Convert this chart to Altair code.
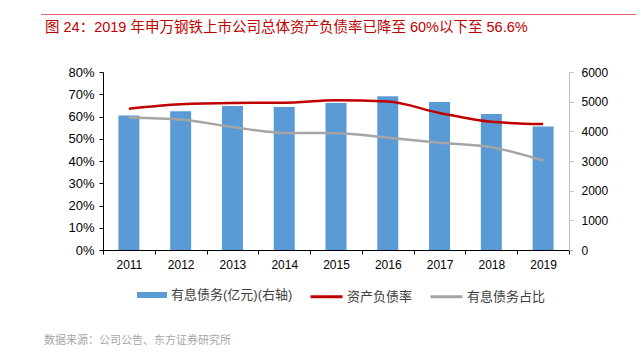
import altair as alt
import pandas as pd

years = ["2011", "2012", "2013", "2014", "2015", "2016", "2017", "2018", "2019"]
debt = [4530, 4675, 4856, 4823, 4957, 5180, 4991, 4587, 4160]          # 有息债务(亿元)
liab_ratio = [63.5, 65.5, 66.1, 66.2, 67.3, 66.7, 61.6, 57.6, 56.6]     # 资产负债率 %
debt_share = [59.6, 58.6, 55.3, 52.6, 52.5, 50.5, 48.2, 46.2, 40.2]     # 有息债务占比 %

BAR_NAME = "有息债务(亿元)(右轴)"
LINE_NAMES = ["资产负债率", "有息债务占比"]
TITLE = "图 24：2019 年申万钢铁上市公司总体资产负债率已降至 60%以下至 56.6%"
SOURCE = "数据来源：公司公告、东方证券研究所"

LAT = "Liberation Sans, Arial, Noto Sans CJK SC"
CJK = "Liberation Sans, Noto Sans CJK SC"

bar_df = pd.DataFrame({"year": years, "value": debt, "series": BAR_NAME})
line_df = pd.concat([
    pd.DataFrame({"year": years, "value": liab_ratio, "series": LINE_NAMES[0]}),
    pd.DataFrame({"year": years, "value": debt_share, "series": LINE_NAMES[1]}),
])

x_enc = alt.X("year:N", sort=years,
              scale=alt.Scale(paddingInner=0, paddingOuter=0),
              axis=alt.Axis(title=None, labelAngle=0, tickBand="extent",
                            domainColor="#000000", tickColor="#000000", tickSize=4,
                            labelFont=LAT, labelFontSize=12, labelColor="#000000",
                            labelPadding=5, grid=False))

bars = alt.Chart(bar_df).mark_bar(size=21).encode(
    x=x_enc,
    y=alt.Y("value:Q", scale=alt.Scale(domain=[0, 6000], nice=False),
            axis=alt.Axis(orient="right", title=None, values=[0, 1000, 2000, 3000, 4000, 5000, 6000],
                          format="d", domainColor="#BFBFBF", tickColor="#BFBFBF", tickSize=4,
                          labelPadding=8, labelFont=LAT, labelFontSize=12,
                          labelColor="#000000", grid=False)),
    fill=alt.Fill("series:N", scale=alt.Scale(domain=[BAR_NAME], range=["#5B9BD5"]),
                  legend=alt.Legend(title=None, orient="none", legendX=34, legendY=208,
                                    symbolType="M-1,-0.2H1V0.2H-1Z", symbolSize=900,
                                    symbolStrokeWidth=0, labelOffset=4, padding=0,
                                    labelFont=CJK, labelFontSize=13, labelColor="#404040")),
)

lines = alt.Chart(line_df).mark_line(strokeWidth=2.5, interpolate="monotone").encode(
    x=alt.X("year:N", sort=years),
    y=alt.Y("value:Q", scale=alt.Scale(domain=[0, 80], nice=False),
            axis=alt.Axis(orient="left", title=None, values=[0, 10, 20, 30, 40, 50, 60, 70, 80],
                          labelExpr="datum.value + '%'", domainColor="#000000",
                          tickColor="#000000", tickSize=4, labelPadding=5,
                          labelFont=LAT, labelFontSize=13, labelColor="#000000", grid=False)),
    stroke=alt.Stroke("series:N", sort=LINE_NAMES,
                      scale=alt.Scale(domain=LINE_NAMES, range=["#C00000", "#A5A5A5"]),
                      legend=alt.Legend(title=None, orient="none", legendX=206, legendY=207,
                                        direction="horizontal", symbolType="stroke",
                                        symbolSize=1024, symbolStrokeWidth=3, labelOffset=3,
                                        columnPadding=11, padding=0,
                                        labelFont=CJK, labelFontSize=13, labelColor="#404040")),
    detail="series:N",
)

one = pd.DataFrame({"t": [TITLE], "s": [SOURCE]})

title = alt.Chart(one).mark_text(align="left", baseline="middle", font=CJK, fontSize=14.5,
                                 color="#C00000").encode(
    x=alt.value(-58), y=alt.value(-44), text="t:N")

source = alt.Chart(one).mark_text(align="left", baseline="middle", font=CJK, fontSize=11,
                                  color="#A6A6A6").encode(
    x=alt.value(-59), y=alt.value(269), text="s:N")

top_rule = alt.Chart(one).mark_rule(color="#E06666", strokeWidth=1).encode(
    x=alt.value(-62), x2=alt.value(560), y=alt.value(-57.5))

chart = alt.layer(bars, lines, title, source, top_rule).resolve_scale(
    y="independent", fill="independent", stroke="independent"
).properties(
    width=466, height=178,
    autosize=alt.AutoSizeParams(type="none"),
    padding={"left": 95, "top": 64, "right": 67, "bottom": 98},
).configure_view(stroke=None)

chart.save("out.html", embed_options={"renderer": "svg", "actions": False})
